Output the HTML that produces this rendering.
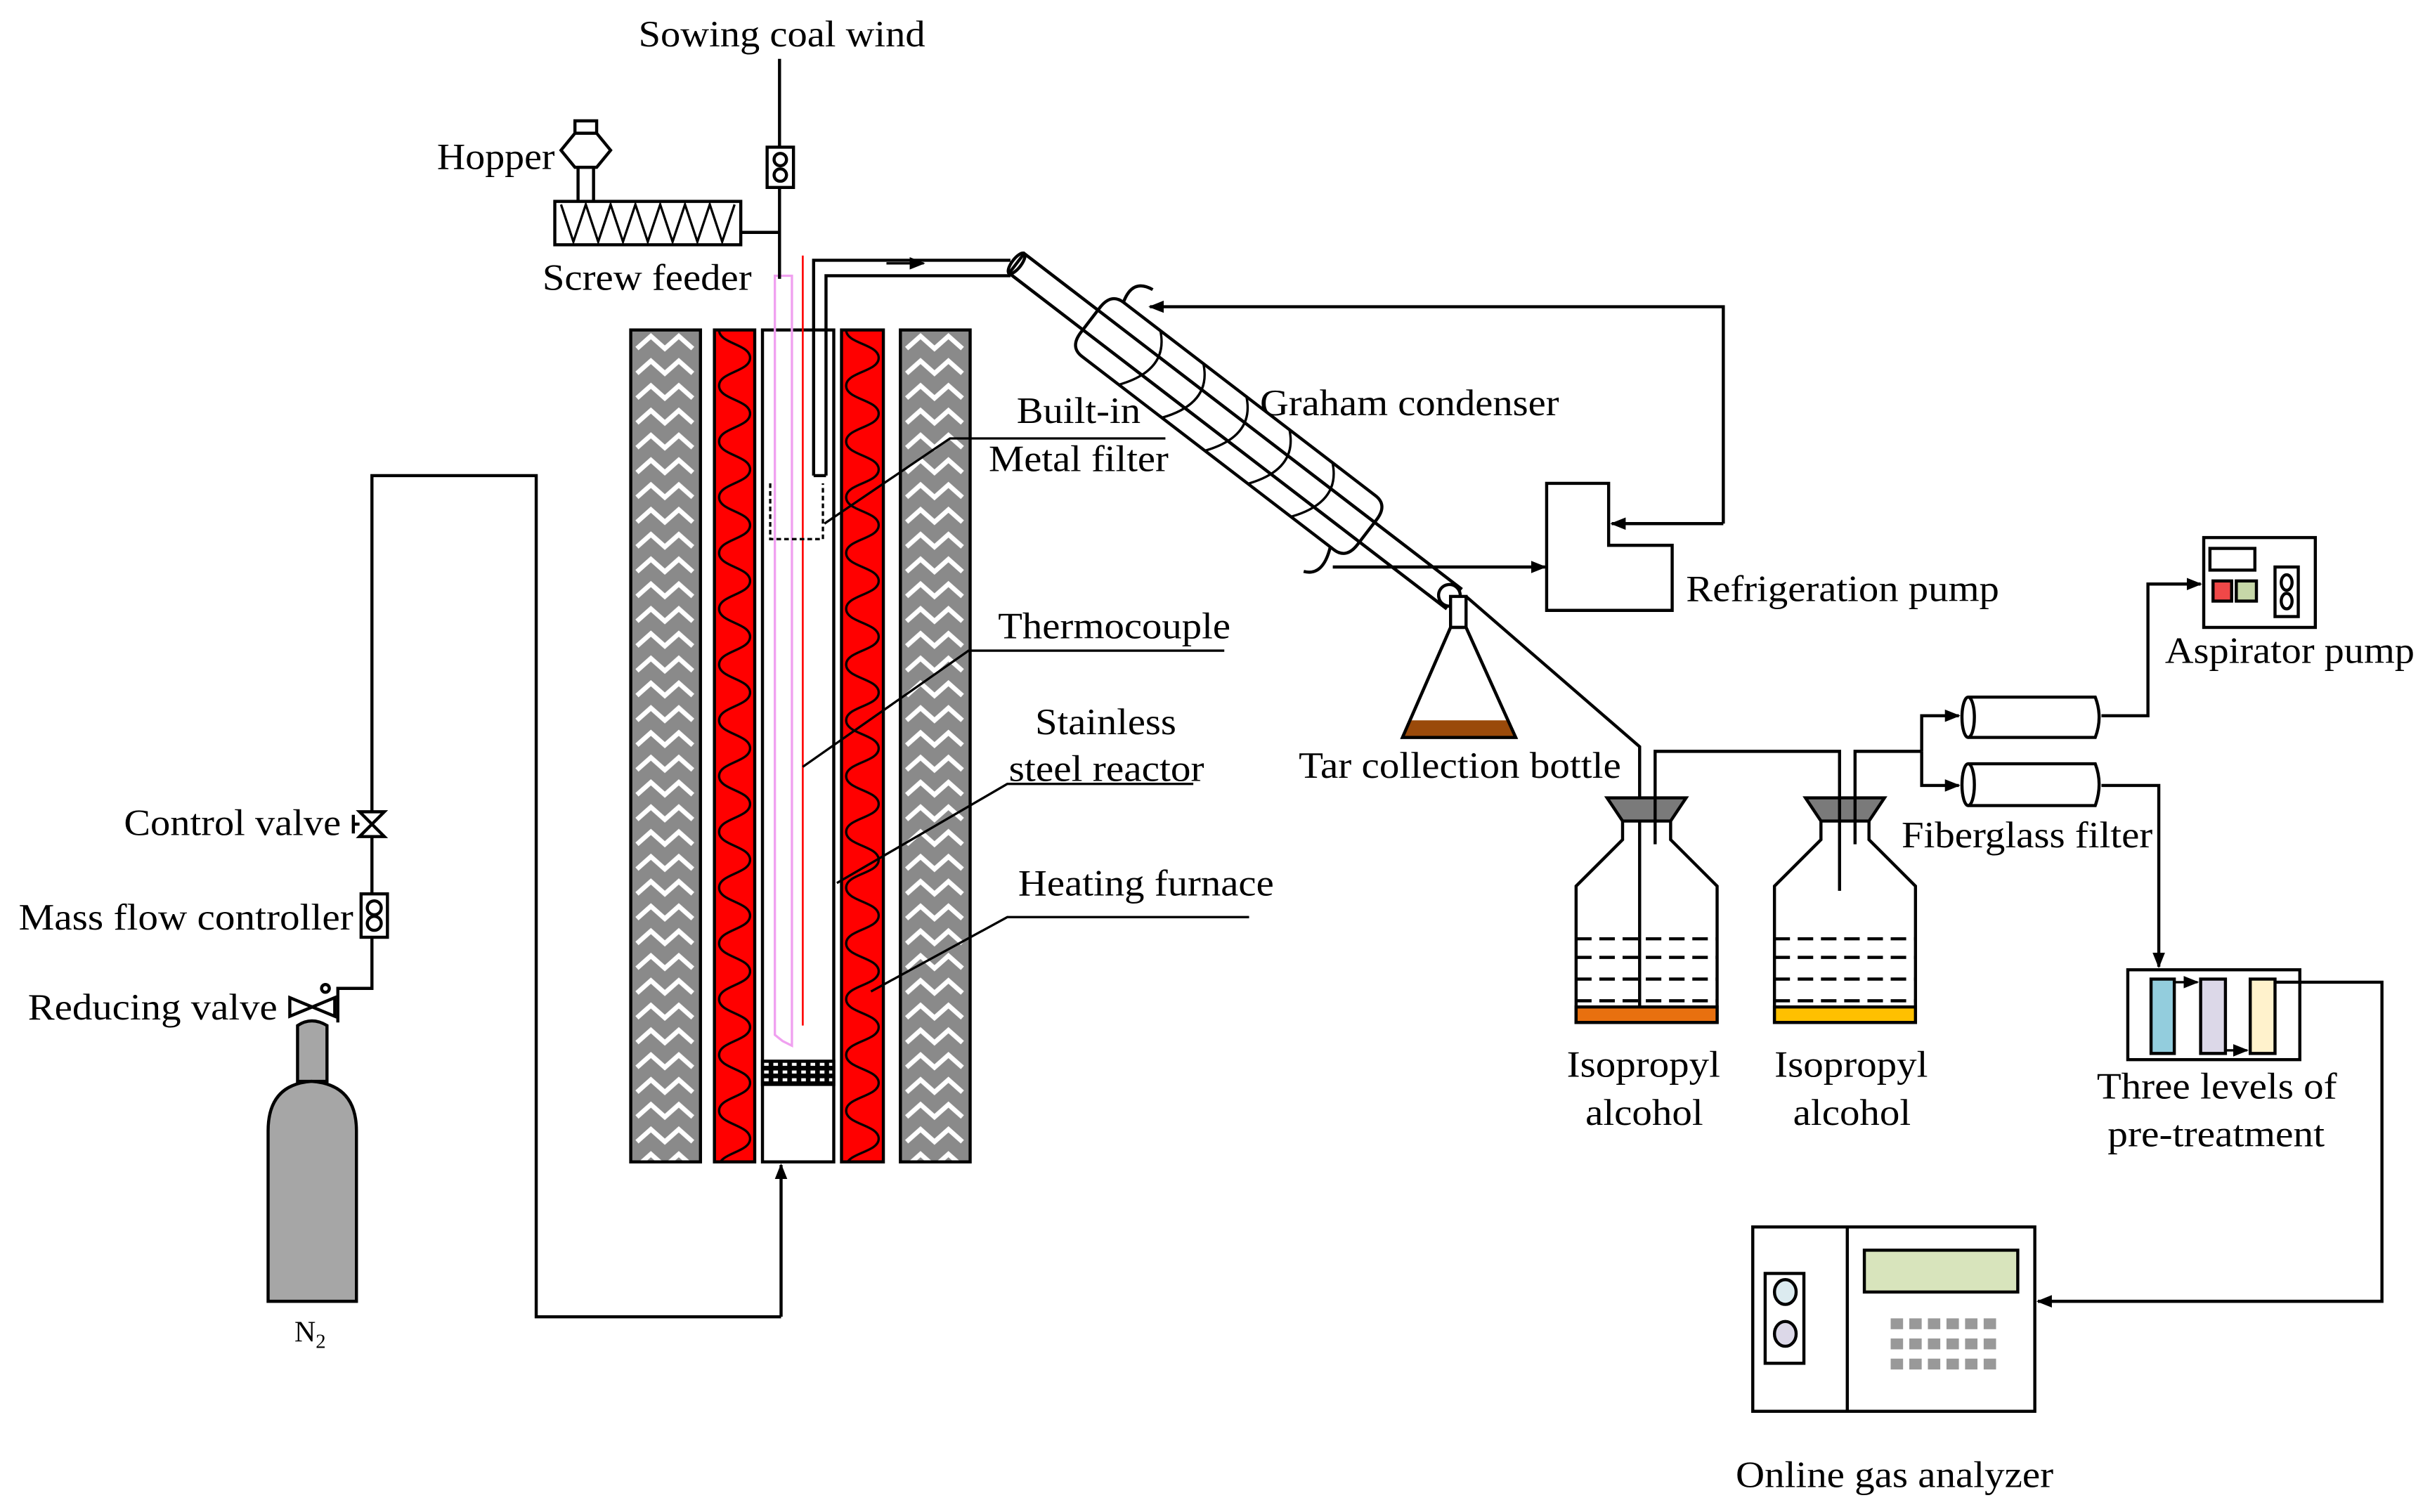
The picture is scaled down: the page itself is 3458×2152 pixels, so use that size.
<!DOCTYPE html>
<html><head><meta charset="utf-8"><style>
html,body{margin:0;padding:0;background:#fff}
svg{display:block}
text{font-family:"Liberation Serif",serif;font-size:24px;fill:#000}
</style></head><body>
<svg width="3458" height="2152" viewBox="0 0 1568 976" preserveAspectRatio="none" xmlns="http://www.w3.org/2000/svg">
<defs>
<pattern id="ins" width="44" height="16" patternUnits="userSpaceOnUse" x="407" y="213">
<rect width="44" height="16" fill="#8a8a8a"/>
<path d="M4 12 L13 4 L22 12 L31 4 L40 12" stroke="#fff" stroke-width="3" fill="none"/>
</pattern>
<pattern id="ins2" width="44" height="16" patternUnits="userSpaceOnUse" x="581" y="213">
<rect width="44" height="16" fill="#8a8a8a"/>
<path d="M4 12 L13 4 L22 12 L31 4 L40 12" stroke="#fff" stroke-width="3" fill="none"/>
</pattern>
<pattern id="wv1" width="26" height="36" patternUnits="userSpaceOnUse" x="461" y="213">
<rect width="26" height="36" fill="#ff0000"/>
<path d="M3 0 C3 9 23 9 23 18 C23 27 3 27 3 36" stroke="#000" stroke-width="1.5" fill="none"/>
</pattern>
<pattern id="wv2" width="27" height="36" patternUnits="userSpaceOnUse" x="543" y="213">
<rect width="27" height="36" fill="#ff0000"/>
<path d="M3 0 C3 9 24 9 24 18 C24 27 3 27 3 36" stroke="#000" stroke-width="1.5" fill="none"/>
</pattern>
<pattern id="mesh" width="6" height="5" patternUnits="userSpaceOnUse">
<rect width="6" height="5" fill="#000"/><rect x="1" y="1" width="3" height="2" fill="#fff"/>
</pattern>
<marker id="ar" markerWidth="10" markerHeight="10" refX="9" refY="5" orient="auto" markerUnits="userSpaceOnUse">
<path d="M0 1 L10 5 L0 9 Z" fill="#000"/></marker>
</defs>

<g stroke="#000" stroke-width="2" fill="none">
<rect x="407" y="213" width="45" height="537" fill="url(#ins)"/>
<rect x="461" y="213" width="26" height="537" fill="url(#wv1)"/>
<rect x="492" y="213" width="46" height="537" fill="#fff"/>
<rect x="543" y="213" width="27" height="537" fill="url(#wv2)"/>
<rect x="581" y="213" width="45" height="537" fill="url(#ins2)"/>
<rect x="492" y="685" width="46" height="15" fill="url(#mesh)"/>
<path d="M500 178 L511 178 L511 675 L505 672 L500 668 Z" stroke="#f0a0f0" stroke-width="1.5"/>
<line x1="518" y1="165" x2="518" y2="662" stroke="#f00" stroke-width="1.2"/>
<path d="M497 312 L497 348 L531 348 L531 312" stroke-dasharray="3,2" stroke-width="1.5"/>
<path d="M525 307 L525 168 L652 168 M533 307 L533 178 L652 178 M525 307 L533 307"/>
<path d="M572 170 L596 170" marker-end="url(#ar)" stroke-width="1.5"/>
<line x1="503" y1="38" x2="503" y2="180"/>
<rect x="495" y="95" width="17" height="26" fill="#fff"/>
<circle cx="503.5" cy="103" r="4"/><circle cx="503.5" cy="113" r="4"/>
<rect x="358" y="130" width="120" height="28" fill="#fff"/>
<path d="M362 132 L370 156 L378 132 L386 156 L394 132 L402 156 L410 132 L418 156 L426 132 L434 156 L442 132 L450 156 L458 132 L466 156 L474 132" stroke-width="1.5"/>
<line x1="478" y1="150" x2="503" y2="150"/>
<path d="M371 78 L385 78 L385 86 L371 86 Z M371 86 L362 97 L371 108 L385 108 L394 97 L385 86 M373 108 L373 130 M383 108 L383 130"/>
<path d="M504 850 L346 850 L346 307 L240 307 L240 638 L218 638 L218 660"/>
<path d="M504 850 L504 752" marker-end="url(#ar)"/>
<path d="M232 524 L248 540 L232 540 L248 524 Z M232 532 L228 532 M228 526 L228 538" fill="#fff"/>
<rect x="233" y="577" width="17" height="28" fill="#fff"/>
<circle cx="241.5" cy="586" r="4.5"/><circle cx="241.5" cy="596" r="4.5"/>
<path d="M187 644 L216 656 L216 644 L187 656 Z" fill="#fff"/>
<circle cx="210" cy="638" r="2.5"/>
<path d="M192 698 L192 662 Q201 656 211 662 L211 698 Z" fill="#a6a6a6"/>
<path d="M173 840 L173 730 Q173 700 201 698 Q230 700 230 730 L230 840 Z" fill="#a6a6a6"/>
<path d="M532 338 L613 283 L752 283" stroke-width="1.5"/>
<path d="M518 495 L625 420 L790 420" stroke-width="1.5"/>
<path d="M540 570 L650 506 L770 506" stroke-width="1.5"/>
<path d="M562 640 L650 592 L806 592" stroke-width="1.5"/>
</g>

<g transform="translate(656,170) rotate(37.5)" stroke="#000" stroke-width="2" fill="none">
<rect x="0" y="-8" width="355" height="16" fill="#fff"/>
<ellipse cx="0" cy="0" rx="3" ry="8" fill="#fff"/>
<path d="M70 -22 L275 -22 Q285 -22 285 -10 L285 10 Q285 22 275 22 L70 22 Q60 22 60 10 L60 -10 Q60 -22 70 -22 Z"/>
<path d="M100 -22 Q120 -5 100 22 M135 -22 Q155 -5 135 22 M170 -22 Q190 -5 170 22 M205 -22 Q225 -5 205 22 M240 -22 Q260 -5 240 22" stroke-width="1.5"/>
<rect x="0" y="-8" width="355" height="16"/>
<path d="M70 -22 Q65 -38 80 -40" /><path d="M272 22 Q280 40 268 45"/>
<circle cx="352" cy="0" r="7" fill="#fff"/>
</g>

<g stroke="#000" stroke-width="2" fill="none">
<path d="M998 312 L1038 312 L1038 352 L1079 352 L1079 394 L998 394 Z" fill="#fff"/>
<path d="M1112 338 L1112 198 L742 198" marker-end="url(#ar)"/>
<path d="M1112 338 L1040 338" marker-end="url(#ar)"/>
<path d="M860 366 L997 366" marker-end="url(#ar)"/>
<rect x="936" y="385" width="10" height="20" fill="#fff"/>
<path d="M936 405 L905 476 L978 476 L946 405 Z" fill="#fff"/>
<path d="M909 465 L974 465 L978 476 L905 476 Z" fill="#9a4a0a" stroke="none"/>
<path d="M936 405 L905 476 L978 476 L946 405"/>
<path d="M946 385 L1058 482 L1058 650"/>
<path d="M1047 530 L1047 542 L1017 572 L1017 660 L1108 660 L1108 572 L1078 542 L1078 530"/>
<rect x="1017" y="650" width="91" height="10" fill="#e8700f"/>
<path d="M1017 606 L1108 606 M1017 618 L1108 618 M1017 632 L1108 632 M1017 646 L1108 646" stroke-dasharray="10,5"/>
<path d="M1037 515 L1088 515 L1078 530 L1047 530 Z" fill="#7a7a7a"/>
<path d="M1175 530 L1175 542 L1145 572 L1145 660 L1236 660 L1236 572 L1206 542 L1206 530"/>
<rect x="1145" y="650" width="91" height="10" fill="#ffc000"/>
<path d="M1145 606 L1236 606 M1145 618 L1236 618 M1145 632 L1236 632 M1145 646 L1236 646" stroke-dasharray="10,5"/>
<path d="M1165 515 L1216 515 L1206 530 L1175 530 Z" fill="#7a7a7a"/>
<path d="M1068 545 L1068 485 L1187 485 L1187 575"/>
<path d="M1197 545 L1197 485 L1240 485"/>
<path d="M1240 485 L1240 462 L1264 462" marker-end="url(#ar)"/>
<path d="M1240 485 L1240 507 L1264 507" marker-end="url(#ar)"/>
<path d="M1270 450 L1352 450 Q1357 463 1352 476 L1270 476" fill="#fff"/>
<ellipse cx="1270" cy="463" rx="4" ry="13" fill="#fff"/>
<path d="M1270 493 L1352 493 Q1357 506 1352 520 L1270 520" fill="#fff"/>
<ellipse cx="1270" cy="506.5" rx="4" ry="13.5" fill="#fff"/>
<path d="M1356 462 L1386 462 L1386 377 L1420 377" marker-end="url(#ar)"/>
<path d="M1356 507 L1393 507 L1393 624" marker-end="url(#ar)"/>
<rect x="1422" y="347" width="72" height="58" fill="#fff"/>
<rect x="1426" y="354" width="29" height="14"/>
<rect x="1428" y="375" width="12" height="13" fill="#f04848"/>
<rect x="1443" y="375" width="13" height="13" fill="#c6d7a8"/>
<rect x="1468" y="366" width="15" height="32"/>
<ellipse cx="1475.5" cy="376" rx="3.5" ry="5"/><ellipse cx="1475.5" cy="388" rx="3.5" ry="5"/>
<rect x="1373" y="626" width="111" height="58" fill="#fff"/>
<rect x="1388" y="632" width="15" height="48" fill="#93cddd"/>
<rect x="1420" y="632" width="16" height="48" fill="#dcd8e8"/>
<rect x="1452" y="632" width="16" height="48" fill="#fff2cc"/>
<path d="M1403 634 L1418 634" marker-end="url(#ar)" stroke-width="1.5"/>
<path d="M1436 678 L1450 678" marker-end="url(#ar)" stroke-width="1.5"/>
<path d="M1468 634 L1537 634 L1537 840 L1315 840" marker-end="url(#ar)"/>
<rect x="1131" y="792" width="182" height="119" fill="#fff"/>
<line x1="1192" y1="792" x2="1192" y2="911"/>
<rect x="1139" y="822" width="25" height="58"/>
<ellipse cx="1152" cy="834" rx="7" ry="8" fill="#dcebf0"/>
<ellipse cx="1152" cy="861" rx="7" ry="8" fill="#dcd8e8"/>
<rect x="1203" y="807" width="99" height="27" fill="#d8e4bc"/>
</g>
<g fill="#999">
<rect x="1220" y="851" width="8" height="7"/><rect x="1232" y="851" width="8" height="7"/><rect x="1244" y="851" width="8" height="7"/><rect x="1256" y="851" width="8" height="7"/><rect x="1268" y="851" width="8" height="7"/><rect x="1280" y="851" width="8" height="7"/>
<rect x="1220" y="864" width="8" height="7"/><rect x="1232" y="864" width="8" height="7"/><rect x="1244" y="864" width="8" height="7"/><rect x="1256" y="864" width="8" height="7"/><rect x="1268" y="864" width="8" height="7"/><rect x="1280" y="864" width="8" height="7"/>
<rect x="1220" y="877" width="8" height="7"/><rect x="1232" y="877" width="8" height="7"/><rect x="1244" y="877" width="8" height="7"/><rect x="1256" y="877" width="8" height="7"/><rect x="1268" y="877" width="8" height="7"/><rect x="1280" y="877" width="8" height="7"/>
</g>

<g lengthAdjust="spacingAndGlyphs">
<text x="412" y="30" textLength="185" lengthAdjust="spacingAndGlyphs">Sowing coal wind</text>
<text x="282" y="109" textLength="76" lengthAdjust="spacingAndGlyphs">Hopper</text>
<text x="350" y="187" textLength="135" lengthAdjust="spacingAndGlyphs">Screw feeder</text>
<text x="656" y="273" textLength="80" lengthAdjust="spacingAndGlyphs">Built-in</text>
<text x="638" y="304" textLength="116" lengthAdjust="spacingAndGlyphs">Metal filter</text>
<text x="644" y="412" textLength="150" lengthAdjust="spacingAndGlyphs">Thermocouple</text>
<text x="668" y="474" textLength="91" lengthAdjust="spacingAndGlyphs">Stainless</text>
<text x="651" y="504" textLength="126" lengthAdjust="spacingAndGlyphs">steel reactor</text>
<text x="657" y="578" textLength="165" lengthAdjust="spacingAndGlyphs">Heating furnace</text>
<text x="813" y="268" textLength="193" lengthAdjust="spacingAndGlyphs">Graham condenser</text>
<text x="1088" y="388" textLength="202" lengthAdjust="spacingAndGlyphs">Refrigeration pump</text>
<text x="1397" y="428" textLength="161" lengthAdjust="spacingAndGlyphs">Aspirator pump</text>
<text x="838" y="502" textLength="208" lengthAdjust="spacingAndGlyphs">Tar collection bottle</text>
<text x="1227" y="547" textLength="162" lengthAdjust="spacingAndGlyphs">Fiberglass filter</text>
<text x="1011" y="695" textLength="99" lengthAdjust="spacingAndGlyphs">Isopropyl</text>
<text x="1023" y="726" textLength="76" lengthAdjust="spacingAndGlyphs">alcohol</text>
<text x="1145" y="695" textLength="99" lengthAdjust="spacingAndGlyphs">Isopropyl</text>
<text x="1157" y="726" textLength="76" lengthAdjust="spacingAndGlyphs">alcohol</text>
<text x="1353" y="709" textLength="155" lengthAdjust="spacingAndGlyphs">Three levels of</text>
<text x="1360" y="740" textLength="140" lengthAdjust="spacingAndGlyphs">pre-treatment</text>
<text x="1120" y="960" textLength="205" lengthAdjust="spacingAndGlyphs">Online gas analyzer</text>
<text x="80" y="539" textLength="140" lengthAdjust="spacingAndGlyphs">Control valve</text>
<text x="12" y="600" textLength="216" lengthAdjust="spacingAndGlyphs">Mass flow controller</text>
<text x="18" y="658" textLength="161" lengthAdjust="spacingAndGlyphs">Reducing valve</text>
</g>
<text x="190" y="866" style="font-size:19px">N<tspan dy="4" style="font-size:13px">2</tspan></text>
</svg>
</body></html>
